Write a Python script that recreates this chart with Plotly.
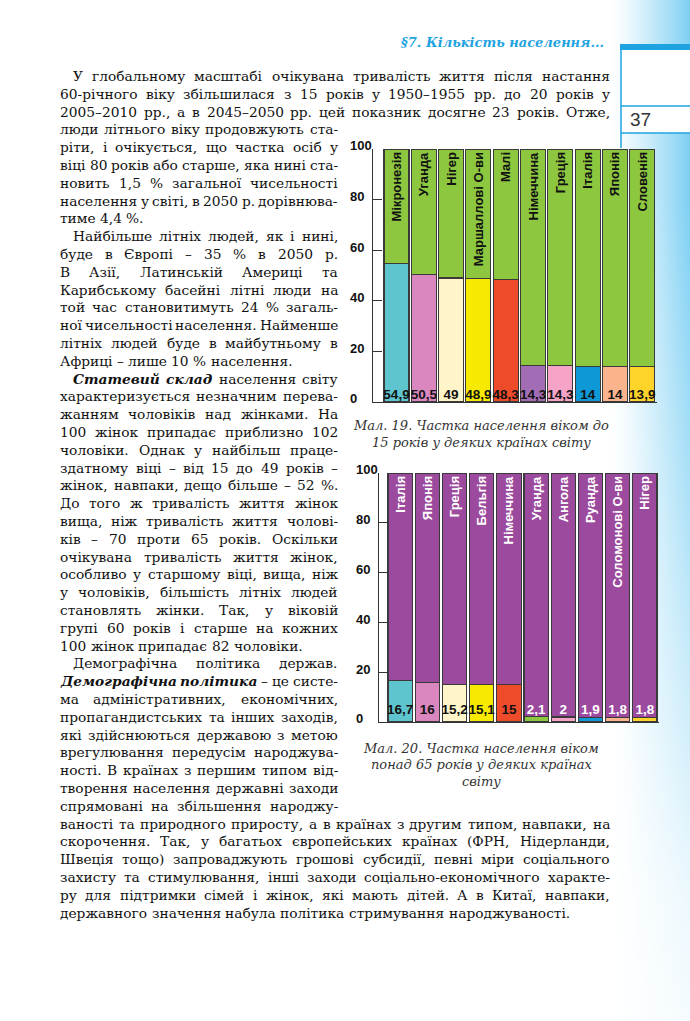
import os, glob, struct
import plotly.graph_objects as go

W, H = 690, 1021

# ---------------- data ----------------
countries_u15 = ["Мікронезія", "Уганда", "Нігер", "Маршаллові О-ви", "Малі",
                 "Німеччина", "Греція", "Італія", "Японія", "Словенія"]
share_u15 = [54.9, 50.5, 49, 48.9, 48.3, 14.3, 14.3, 14, 14, 13.9]
colors_u15 = ["#5EC4CD", "#D987BE", "#FFF5C8", "#F7EA00", "#EE4B2B",
              "#A26DB5", "#F5A3C7", "#0E98D6", "#F9B48E", "#FFD42A"]
rest_color_u15 = "#8DC63F"

countries_65 = ["Італія", "Японія", "Греція", "Бельгія", "Німеччина",
                "Уганда", "Ангола", "Руанда", "Соломонові О-ви", "Нігер"]
share_65 = [16.7, 16, 15.2, 15.1, 15, 2.1, 2, 1.9, 1.8, 1.8]
colors_65 = ["#5EC4CD", "#D987BE", "#FFF5C8", "#F7EA00", "#EE4B2B",
             "#8DC63F", "#F5A3C7", "#0E98D6", "#F9B48E", "#FFD42A"]
rest_color_65 = "#9C4A9E"
label_colors_65 = ["#111111"] * 5 + ["#FFFFFF"] * 5

y_ticks = [0, 20, 40, 60, 80, 100]

caption_19 = ["Мал. 19. Частка населення віком до", "15 років у деяких країнах світу"]
caption_20 = ["Мал. 20. Частка населення віком", "понад 65 років у деяких країнах", "світу"]
header_text = "§7. Кількість населення..."
page_number = "37"

# body text lines (* marks bold italic words)
body_lines = [
    "У глобальному масштабі очікувана тривалість життя після настання",
    "60-річного віку збільшилася з 15 років у 1950–1955 рр. до 20 років у",
    "2005–2010 рр., а в 2045–2050 рр. цей показник досягне 23 років. Отже,",
    "люди літнього віку продовжують ста-",
    "ріти, і очікується, що частка осіб у",
    "віці 80 років або старше, яка нині ста-",
    "новить 1,5 % загальної чисельності",
    "населення у світі, в 2050 р. дорівнюва-",
    "тиме 4,4 %.",
    "Найбільше літніх людей, як і нині,",
    "буде в Європі – 35 % в 2050 р.",
    "В Азії, Латинській Америці та",
    "Карибському басейні літні люди на",
    "той час становитимуть 24 % загаль-",
    "ної чисельності населення. Найменше",
    "літніх людей буде в майбутньому в",
    "Африці – лише 10 % населення.",
    "*Статевий *склад населення світу",
    "характеризується незначним перева-",
    "жанням чоловіків над жінками. На",
    "100 жінок припадає приблизно 102",
    "чоловіки. Однак у найбільш праце-",
    "здатному віці – від 15 до 49 років –",
    "жінок, навпаки, дещо більше – 52 %.",
    "До того ж тривалість життя жінок",
    "вища, ніж тривалість життя чолові-",
    "ків – 70 проти 65 років. Оскільки",
    "очікувана тривалість життя жінок,",
    "особливо у старшому віці, вища, ніж",
    "у чоловіків, більшість літніх людей",
    "становлять жінки. Так, у віковій",
    "групі 60 років і старше на кожних",
    "100 жінок припадає 82 чоловіки.",
    "Демографічна політика держав.",
    "*Демографічна *політика – це систе-",
    "ма адміністративних, економічних,",
    "пропагандистських та інших заходів,",
    "які здійснюються державою з метою",
    "врегулювання передусім народжува-",
    "ності. В країнах з першим типом від-",
    "творення населення державні заходи",
    "спрямовані на збільшення народжу-",
    "ваності та природного приросту, а в країнах з другим типом, навпаки, на",
    "скорочення. Так, у багатьох європейських країнах (ФРН, Нідерланди,",
    "Швеція тощо) запроваджують грошові субсидії, певні міри соціального",
    "захисту та стимулювання, інші заходи соціально-економічного характе-",
    "ру для підтримки сімей і жінок, які мають дітей. А в Китаї, навпаки,",
    "державного значення набула політика стримування народжуваності.",
]
indent_lines = {0, 9, 17, 33}
paragraph_end_lines = {8, 16, 32, 47}
full_width_lines = {0, 1, 2, 42, 43, 44, 45, 46, 47}


def px(x):
    return x / W


def py(y):
    return 1 - y / H


# ---------------- font metrics (for justified text) ----------------
def find_font(name):
    for d in ["/usr/share/fonts", "/usr/local/share/fonts",
              os.path.expanduser("~/.fonts"), os.path.expanduser("~/.local/share/fonts")]:
        for p in glob.glob(os.path.join(d, "**", name), recursive=True):
            return p
    return None


def load_font(path):
    data = open(path, "rb").read()
    num = struct.unpack(">H", data[4:6])[0]
    tables = {}
    for i in range(num):
        off = 12 + 16 * i
        tag = data[off:off + 4].decode("latin1")
        _, toff, tlen = struct.unpack(">III", data[off + 4:off + 16])
        tables[tag] = toff
    ho = tables["head"]
    upem = struct.unpack(">H", data[ho + 18:ho + 20])[0]
    hh = tables["hhea"]
    nhm = struct.unpack(">H", data[hh + 34:hh + 36])[0]
    hm = tables["hmtx"]
    adv = [struct.unpack(">H", data[hm + 4 * i:hm + 4 * i + 2])[0] for i in range(nhm)]
    co = tables["cmap"]
    n = struct.unpack(">H", data[co + 2:co + 4])[0]
    cmap = {}
    for i in range(n):
        pid, eid, so = struct.unpack(">HHI", data[co + 4 + 8 * i:co + 12 + 8 * i])
        st = co + so
        fmt = struct.unpack(">H", data[st:st + 2])[0]
        if fmt == 4 and pid in (0, 3):
            segx2 = struct.unpack(">H", data[st + 6:st + 8])[0]
            seg = segx2 // 2
            ends = struct.unpack(">%dH" % seg, data[st + 14:st + 14 + segx2])
            so2 = st + 16 + segx2
            starts = struct.unpack(">%dH" % seg, data[so2:so2 + segx2])
            do = so2 + segx2
            deltas = struct.unpack(">%dh" % seg, data[do:do + segx2])
            ro = do + segx2
            ros = struct.unpack(">%dH" % seg, data[ro:ro + segx2])
            for s in range(seg):
                for c in range(starts[s], ends[s] + 1):
                    if c == 0xFFFF:
                        continue
                    if ros[s] == 0:
                        g = (c + deltas[s]) & 0xFFFF
                    else:
                        addr = ro + 2 * s + ros[s] + 2 * (c - starts[s])
                        g = struct.unpack(">H", data[addr:addr + 2])[0]
                        if g:
                            g = (g + deltas[s]) & 0xFFFF
                    cmap[c] = g
            break

    def width(text):
        tot = 0
        for ch in text:
            g = cmap.get(ord(ch), 0)
            tot += adv[g] if g < nhm else adv[-1]
        return tot / upem
    return width


METRICS = {}
for key, fname in [("r", "DejaVuSerif.ttf"), ("bi", "DejaVuSerif-BoldItalic.ttf")]:
    try:
        p = find_font(fname)
        if p:
            METRICS[key] = load_font(p)
    except Exception:
        pass


def unit_width(text, style):
    m = METRICS.get(style) or METRICS.get("r")
    if m is None:
        return 0.58 * len(text)
    return m(text)


BODY_FONT = "DejaVu Serif"
LINE0_Y = 76.0
LINE_STEP = 17.8
LEFT_X = 60.0
INDENT_X = 73.0
COL_RIGHT = 338.0
FULL_RIGHT = 610.0

# choose font size so every justified line fits
cands = [14.0]
for i, line in enumerate(body_lines):
    if i in paragraph_end_lines:
        continue
    toks = line.split(" ")
    left = INDENT_X if i in indent_lines else LEFT_X
    right = FULL_RIGHT if i in full_width_lines else COL_RIGHT
    uw = sum(unit_width(t.lstrip("*"), "bi" if t.startswith("*") else "r") for t in toks)
    cands.append((right - left) / (uw + 0.2 * (len(toks) - 1)))
FS = min(cands)

annotations = []
for i, line in enumerate(body_lines):
    toks = line.split(" ")
    left = INDENT_X if i in indent_lines else LEFT_X
    right = FULL_RIGHT if i in full_width_lines else COL_RIGHT
    y = LINE0_Y + i * LINE_STEP
    words = [(t.lstrip("*"), "bi" if t.startswith("*") else "r") for t in toks]
    widths = [unit_width(w, s) * FS for w, s in words]
    if i not in paragraph_end_lines and len(words) > 1:
        gap = (right - left - sum(widths)) / (len(words) - 1)
    else:
        gap = unit_width(" ", "r") * FS
    x = left
    for (w, s), wd in zip(words, widths):
        txt = "<b><i>%s</i></b>" % w if s == "bi" else w
        annotations.append(dict(text=txt, x=px(x), y=py(y), xref="paper", yref="paper",
                                xanchor="left", yanchor="middle", showarrow=False,
                                borderpad=0, borderwidth=0,
                                font=dict(family=BODY_FONT, size=FS, color="#111111")))
        x += wd + gap

# captions
for k, t in enumerate(caption_19):
    annotations.append(dict(text="<i>%s</i>" % t, x=px(481), y=py(425 + 17 * k), xref="paper", yref="paper",
                            xanchor="center", yanchor="middle", showarrow=False,
                            font=dict(family=BODY_FONT, size=13, color="#333333")))
for k, t in enumerate(caption_20):
    annotations.append(dict(text="<i>%s</i>" % t, x=px(481), y=py(748 + 16.5 * k), xref="paper", yref="paper",
                            xanchor="center", yanchor="middle", showarrow=False,
                            font=dict(family=BODY_FONT, size=13, color="#333333")))
# header + page number
annotations.append(dict(text="<b><i>%s</i></b>" % header_text, x=px(606), y=py(42), xref="paper", yref="paper",
                        xanchor="right", yanchor="middle", showarrow=False,
                        font=dict(family=BODY_FONT, size=13, color="#1FA3E0")))
annotations.append(dict(text=page_number, x=px(640), y=py(119), xref="paper", yref="paper",
                        xanchor="center", yanchor="middle", showarrow=False,
                        font=dict(family="Liberation Sans Narrow, Liberation Sans, Arial", size=19, color="#333333")))

# ---------------- figure ----------------
fig = go.Figure()

# background gradient on the right page edge (decoration)
gx = [600 + 10 * i for i in range(10)]
gy = [0, 100, 200, 300, 400, 500, 600, 700, 800, 900, 1021]


def fx(x):
    return 0.0 if x <= 612 else min(1.0, ((x - 612) / 78.0) ** 1.2)


def fyy(y):
    if y <= 200:
        return 1.0
    if y >= 950:
        return 0.08
    return 1.0 - 0.92 * (y - 200) / 750.0


gz = [[fx(x) * fyy(y) for x in gx] for y in gy]
fig.add_trace(go.Heatmap(x=gx, y=gy, z=gz, zmin=0, zmax=1, showscale=False, zsmooth="best",
                         colorscale=[[0, "#FFFFFF"], [1, "#7CCFF3"]], hoverinfo="skip",
                         xaxis="x", yaxis="y"))

FONT_SANS = "Liberation Sans, Arial, sans-serif"
OUTLINE = dict(color="#3a3a3a", width=1.1)


def fmt(v):
    return ("%g" % v).replace(".", ",")


# chart 1 (under 15)
fig.add_trace(go.Bar(x=countries_u15, y=share_u15, marker=dict(color=colors_u15, line=OUTLINE),
                     width=0.916, xaxis="x2", yaxis="y2", hoverinfo="skip"))
fig.add_trace(go.Bar(x=countries_u15, y=[100 - v for v in share_u15],
                     marker=dict(color=rest_color_u15, line=OUTLINE), width=0.916,
                     text=countries_u15, textposition="inside", insidetextanchor="end", textangle=-90,
                     textfont=dict(family=FONT_SANS, size=13, color="#111111", weight="bold"),
                     xaxis="x2", yaxis="y2", hoverinfo="skip"))
fig.add_trace(go.Scatter(x=countries_u15, y=[2.7] * len(share_u15), mode="text",
                         text=[fmt(v) for v in share_u15],
                         textfont=dict(family=FONT_SANS, size=13.5, color="#111111", weight="bold"),
                         xaxis="x2", yaxis="y2", cliponaxis=False, hoverinfo="skip"))
fig.add_trace(go.Scatter(x=[None], y=[None], xaxis="x2", yaxis="y4", hoverinfo="skip"))

# chart 2 (over 65)
fig.add_trace(go.Bar(x=countries_65, y=share_65, marker=dict(color=colors_65, line=OUTLINE),
                     width=0.893, xaxis="x3", yaxis="y3", hoverinfo="skip"))
fig.add_trace(go.Bar(x=countries_65, y=[100 - v for v in share_65],
                     marker=dict(color=rest_color_65, line=OUTLINE), width=0.893,
                     text=countries_65, textposition="inside", insidetextanchor="end", textangle=-90,
                     textfont=dict(family=FONT_SANS, size=13, color="#FFFFFF", weight="bold"),
                     xaxis="x3", yaxis="y3", hoverinfo="skip"))
fig.add_trace(go.Scatter(x=countries_65, y=[4.6] * len(share_65), mode="text",
                         text=[fmt(v) for v in share_65],
                         textfont=dict(family=FONT_SANS, size=13.5, color=label_colors_65, weight="bold"),
                         xaxis="x3", yaxis="y3", cliponaxis=False, hoverinfo="skip"))
fig.add_trace(go.Scatter(x=[None], y=[None], xaxis="x3", yaxis="y5", hoverinfo="skip"))

AX_LINE = "#333333"
hidden = dict(visible=False, fixedrange=True)


def xcat(domain, rng, anchor):
    return dict(domain=domain, range=rng, anchor=anchor, showline=True, linecolor=AX_LINE, linewidth=1.2,
                ticks="", showticklabels=False, showgrid=False, zeroline=False, fixedrange=True)


def yval(domain, anchor):
    return dict(domain=domain, range=[0, 100], anchor=anchor, showline=True, linecolor=AX_LINE,
                linewidth=1.2, ticks="inside", ticklen=9, tickwidth=1.2, tickcolor=AX_LINE,
                tickvals=y_ticks, showticklabels=False, showgrid=False, zeroline=False, fixedrange=True)


def ylab(bottom_px, top_px, pos, extra=34, shift=6):
    # label axis: same scale as the value axis (shifted a few px down so labels sit
    # just above each tick), domain extended upward so the "100" label fits
    b = bottom_px + shift
    t = top_px + shift
    top_ext = t - extra
    rng_top = 100.0 * (b - top_ext) / (b - t)
    return dict(domain=[py(b), py(top_ext)], anchor="free", position=pos, side="left",
                range=[0, rng_top], tickvals=y_ticks, ticklabelposition="inside top", ticks="",
                showline=False, showgrid=False, zeroline=False, fixedrange=True,
                tickfont=dict(family=FONT_SANS, size=13, color="#111111", weight="bold"))


fig.update_layout(
    width=W, height=H, margin=dict(l=0, r=0, t=0, b=0),
    paper_bgcolor="white", plot_bgcolor="rgba(0,0,0,0)",
    showlegend=False, barmode="stack",
    xaxis=dict(domain=[600 / W, 1], range=[600, 690], **hidden),
    yaxis=dict(domain=[0, 1], range=[1021, 0], **hidden),
    xaxis2=xcat([373 / W, 657 / W], [-0.861, 9.54], "y2"),
    yaxis2=yval([py(402), py(149)], "x2"),
    yaxis4=ylab(402, 149, 346 / W),
    xaxis3=xcat([379 / W, 659 / W], [-0.778, 9.52], "y3"),
    yaxis3=yval([py(722), py(473)], "x3"),
    yaxis5=ylab(722, 473, 352 / W),
    annotations=annotations,
    shapes=[
        dict(type="rect", xref="paper", yref="paper", x0=px(621), x1=1, y0=py(50), y1=py(133),
             fillcolor="white", line=dict(width=0), layer="above"),
        dict(type="rect", xref="paper", yref="paper", x0=px(620), x1=1, y0=py(44), y1=py(50),
             fillcolor="#1FA3E0", line=dict(width=0), layer="above"),
        dict(type="line", xref="paper", yref="paper", x0=px(621), x1=px(621), y0=py(44), y1=py(148),
             line=dict(color="#1FA3E0", width=1.5), layer="above"),
        dict(type="line", xref="paper", yref="paper", x0=px(621), x1=1, y0=py(106), y1=py(106),
             line=dict(color="#1FA3E0", width=1.5), layer="above"),
        dict(type="line", xref="paper", yref="paper", x0=px(621), x1=1, y0=py(133), y1=py(133),
             line=dict(color="#1FA3E0", width=1.5), layer="above"),
    ],
)

fig.write_html("out.html", config={"displayModeBar": False},
               post_script="document.body.style.margin='0';document.body.style.overflow='hidden';")
